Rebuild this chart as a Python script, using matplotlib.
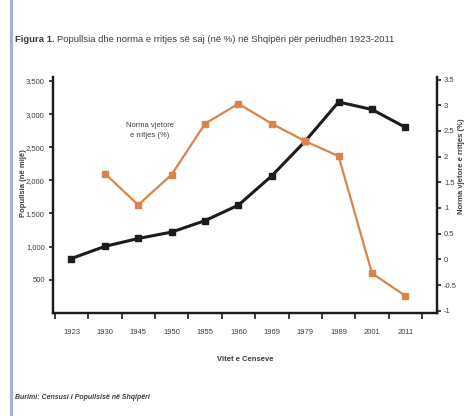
import numpy as np
import matplotlib.pyplot as plt
from matplotlib.lines import Line2D

plt.rcParams['font.family'] = ['Liberation Sans', 'DejaVu Sans']

years = ["1923", "1930", "1945", "1950", "1955", "1960", "1969", "1979", "1989", "2001", "2011"]
population = [820, 1003, 1122, 1219, 1391, 1626, 2068, 2591, 3182, 3069, 2800]
growth_years = ["1930", "1945", "1950", "1955", "1960", "1969", "1979", "1989", "2001", "2011"]
growth = [1.67, 1.06, 1.65, 2.64, 3.03, 2.64, 2.3, 2.01, -0.27, -0.71]

left_ticks = [500, 1000, 1500, 2000, 2500, 3000, 3500]
left_labels = ["500", "1,000", "1,500", "2,000", "2,500", "3,000", "3,500"]
right_ticks = [-1, -0.5, 0, 0.5, 1, 1.5, 2, 2.5, 3, 3.5]
right_labels = ["-1", "-0.5", "0", "0.5", "1", "1.5", "2", "2.5", "3", "3.5"]

txt = "#3a3f47"
dark = "#1c1c1c"
orange = "#d8844a"

fig = plt.figure(figsize=(4.7, 4.16), dpi=100)
ax = fig.add_axes([0.113, 0.248, 0.817, 0.567])
ax2 = ax.twinx()

x = np.arange(len(years))
gx = [years.index(y) for y in growth_years]

ax.plot(x, population, color=dark, lw=2.2, marker="s", ms=4.5, zorder=3)
ax2.plot(gx, growth, color=orange, lw=1.6, marker="s", ms=4.5, zorder=3)

ax.set_xlim(-0.55, len(years) - 0.05)
ax.set_ylim(0, 3560)
ax2.set_ylim(-1.04, 3.55)

ax.set_xticks(np.arange(len(years) + 1) - 0.5)
ax.set_xticklabels([])
ax.set_xticks(x, minor=True)
ax.set_xticklabels(years, minor=True, fontsize=5.5, color=txt)
ax.tick_params(axis="x", which="minor", length=0, pad=12)
ax.tick_params(axis="x", which="major", length=4, width=1.2, color=dark, direction="out")

ax.set_yticks(left_ticks)
ax.set_yticklabels(left_labels, fontsize=5.5, color=txt)
ax.tick_params(axis="y", length=3, width=1.2, color=dark, direction="out", pad=3)

ax2.set_yticks(right_ticks)
ax2.set_yticklabels(right_labels, fontsize=5.5, color=txt)
ax2.tick_params(axis="y", length=3, width=1.2, color=dark, direction="out", pad=2)

for a in (ax, ax2):
    a.spines["top"].set_visible(False)
    for s in ("left", "right", "bottom"):
        a.spines[s].set_color(dark)
        a.spines[s].set_linewidth(1.6)

ax.set_ylabel("Popullsia (në mijë)", fontsize=5.5, fontweight="bold", color=txt)
ax.yaxis.set_label_coords(-0.068, 0.55)
ax2.set_ylabel("Norma vjetore e rritjes (%)", fontsize=5.5, fontweight="bold", color=txt)
ax2.yaxis.set_label_coords(1.055, 0.62)
ax.set_xlabel("Vitet e Censeve", fontsize=5.5, fontweight="bold", color=txt, labelpad=14)

ax.text(2.35, 2750, "Norma vjetore\ne rritjes (%)", fontsize=5.5, color=txt,
        ha="center", va="center", linespacing=1.6)

t1 = fig.text(0.032, 0.905, "Figura 1.", fontsize=6.8, fontweight="bold", color=txt, va="center")
fig.canvas.draw()
bb = t1.get_window_extent().transformed(fig.transFigure.inverted())
fig.text(bb.x1 + 0.005, 0.905, "Popullsia dhe norma e rritjes së saj (në %) në Shqipëri për periudhën 1923-2011",
         fontsize=6.8, color=txt, va="center")
fig.text(0.032, 0.045, "Burimi: Censusi i Popullsisë në Shqipëri", fontsize=5, fontstyle="italic",
         fontweight="bold", color=txt, va="center")

fig.add_artist(Line2D([0.024, 0.024], [0, 1], transform=fig.transFigure, color="#9fb4c8", lw=2.2))

fig.savefig("out.png", dpi=100)
